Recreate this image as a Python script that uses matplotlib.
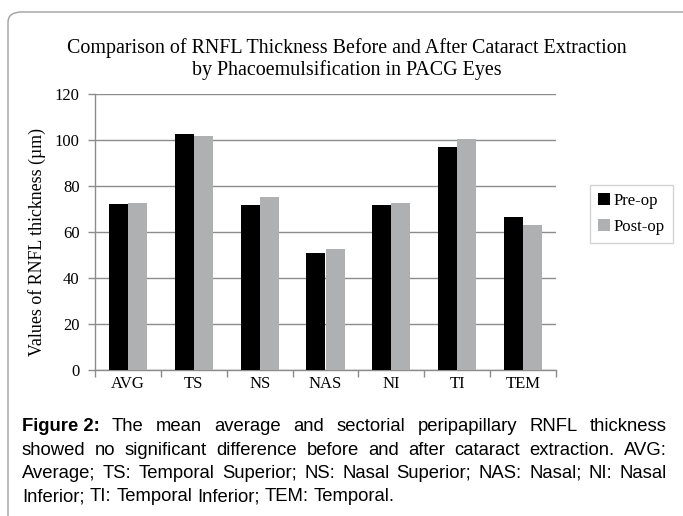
import matplotlib
matplotlib.use("Agg")
import matplotlib.pyplot as plt
import numpy as np
from matplotlib.patches import FancyBboxPatch

categories = ["AVG", "TS", "NS", "NAS", "NI", "TI", "TEM"]
pre_op = [72.2, 102.5, 71.6, 51.0, 71.9, 96.8, 66.7]
post_op = [72.5, 101.6, 75.1, 52.6, 72.6, 100.3, 63.0]
series_names = ["Pre-op", "Post-op"]
title = "Comparison of RNFL Thickness Before and After Cataract Extraction\nby Phacoemulsification in PACG Eyes"
ylabel = "Values of RNFL thickness (\u00b5m)"
caption_lines = [
    ["Figure 2:", "The mean average and sectorial peripapillary RNFL thickness"],
    ["", "showed no significant difference before and after cataract extraction. AVG:"],
    ["", "Average; TS: Temporal Superior; NS: Nasal Superior; NAS: Nasal; NI: Nasal"],
    ["", "Inferior; TI: Temporal Inferior; TEM: Temporal."],
]

W, H = 683, 516
fig = plt.figure(figsize=(W / 100, H / 100), dpi=100)
serif = "Liberation Serif"
sans = "Liberation Sans"

# outer rounded border
border = FancyBboxPatch((8 / W, -20 / H), (W + 20) / W, (H - 12 + 20) / H,
                        boxstyle="round,pad=0,rounding_size=0.02",
                        transform=fig.transFigure, fill=False,
                        edgecolor="#a0a0a0", linewidth=1.0)
fig.patches.append(border)

ax = fig.add_axes([95 / W, 1 - 370 / H, (556 - 95) / W, (370 - 94) / H])
x = np.arange(len(categories))
bw = 0.29
ax.bar(x - bw / 2, pre_op, bw, color="black", label=series_names[0], zorder=3)
ax.bar(x + bw / 2, post_op, bw, color="#aeb0b2", label=series_names[1], zorder=3)

ax.set_xlim(-0.5, len(categories) - 0.5)
ax.set_ylim(0, 120)
ax.set_yticks(np.arange(0, 121, 20))
ax.yaxis.grid(True, color="#8c8c8c", linewidth=1.0, zorder=0)
ax.set_axisbelow(True)
ax.set_xticks(x)
ax.set_xticklabels(categories, fontfamily=serif, fontsize=12)
ax.set_xticks(np.arange(-0.5, len(categories)), minor=True)
ax.tick_params(axis="x", which="major", length=0, pad=4)
ax.tick_params(axis="x", which="minor", length=5, color="#8c8c8c", width=1)
ax.tick_params(axis="y", length=5, color="#8c8c8c", width=1, labelsize=12, pad=6)
for lab in ax.get_yticklabels():
    lab.set_fontfamily(serif)
for s in ["top", "right"]:
    ax.spines[s].set_visible(False)
for s in ["left", "bottom"]:
    ax.spines[s].set_color("#8c8c8c")
    ax.spines[s].set_linewidth(1.0)

fig.text(37 / W, 1 - 242 / H, ylabel, rotation=90, ha="center", va="center",
         fontfamily=serif, fontsize=12.9)
fig.text(347 / W, 1 - 59 / H, title, ha="center", va="center",
         fontfamily=serif, fontsize=14.4, linespacing=1.15)

leg = ax.legend(loc="center left", bbox_to_anchor=(590 / W, 1 - 214 / H),
                bbox_transform=fig.transFigure, prop={"family": serif, "size": 12},
                frameon=True, fancybox=False, edgecolor="#c8c8c8",
                handlelength=0.7, handleheight=0.7, handletextpad=0.2,
                borderpad=0.5, labelspacing=0.6, borderaxespad=0)
leg.get_frame().set_linewidth(1.0)

# justified caption
fig.canvas.draw()
renderer = fig.canvas.get_renderer()
left, right = 22, 667
line_y = [431, 455, 478, 501]
fs = 13.3
for i, (bold, rest) in enumerate(caption_lines):
    words = []
    if bold:
        words.append((bold, "bold"))
    for w_ in rest.split():
        words.append((w_, "normal"))
    texts = []
    for w_, wt in words:
        t = fig.text(0, 1 - line_y[i] / H, w_, fontfamily=sans, fontsize=fs,
                     fontweight=wt, va="baseline", ha="left")
        texts.append(t)
    widths = [t.get_window_extent(renderer).width for t in texts]
    total = sum(widths)
    last = i == len(caption_lines) - 1
    if last:
        gap = fs * 100 / 72 * 0.278
    else:
        gap = (right - left - total) / (len(texts) - 1)
    xpos = left
    for t, wd in zip(texts, widths):
        t.set_x(xpos / W)
        xpos += wd + gap

fig.savefig("out.png", dpi=100)
